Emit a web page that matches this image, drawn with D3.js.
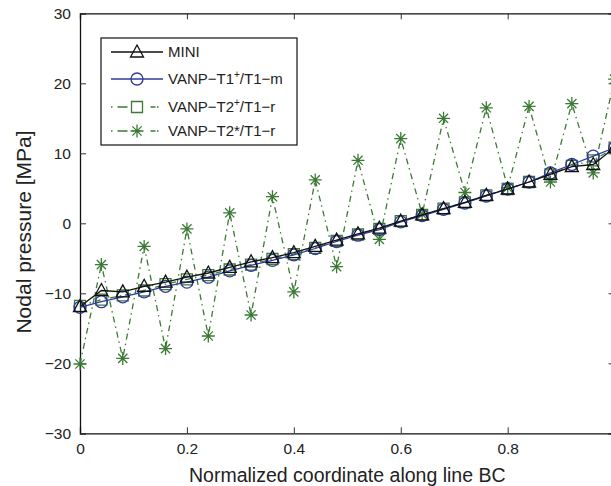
<!DOCTYPE html>
<html>
<head>
<meta charset="utf-8">
<script src="https://cdn.jsdelivr.net/npm/d3@7"></script>
<style>
  body { margin: 0; background: #fff; }
  svg text { font-family: "Liberation Sans", Arial, sans-serif; fill: #222; }
</style>
</head>
<body>
<div id="container"></div>
<script>
// data
const xs = [0, 0.04, 0.08, 0.12, 0.16, 0.2, 0.24, 0.28, 0.32, 0.36, 0.4, 0.44, 0.48,
            0.52, 0.56, 0.6, 0.64, 0.68, 0.72, 0.76, 0.8, 0.84, 0.88, 0.92, 0.96, 1.0];
const mini = [-11.9, -9.6, -9.8, -9.0, -8.4, -7.7, -7.1, -6.3, -5.5, -4.9, -4.2, -3.3, -2.4,
              -1.5, -0.7, 0.3, 1.2, 2.1, 3.0, 4.0, 4.9, 5.9, 7.0, 8.1, 8.4, 10.8];
const t1m = [-12.0, -11.2, -10.5, -9.8, -9.0, -8.4, -7.7, -6.8, -6.0, -5.3, -4.5, -3.6, -2.6,
             -1.7, -0.9, 0.2, 1.1, 2.0, 2.9, 3.9, 4.9, 5.9, 7.2, 8.4, 9.6, 10.8];
const t2pr = [-11.8, -10.9, -10.3, -9.6, -8.7, -8.0, -7.4, -6.6, -5.9, -5.1, -4.4, -3.5, -2.5,
              -1.6, -0.8, 0.3, 1.2, 2.1, 3.0, 4.0, 4.9, 5.9, 7.0, 8.2, 9.0, 10.8];
const t2sr = [-20.1, -5.9, -19.3, -3.3, -17.9, -0.8, -16.1, 1.5, -13.1, 3.8, -9.8, 6.2, -6.2,
              9.0, -2.3, 12.1, 1.3, 15.0, 4.4, 16.5, 5.1, 16.7, 5.9, 17.1, 7.2, 20.6];
const xTicks = [0, 0.2, 0.4, 0.6, 0.8, 1];
const xTickLabels = ["0", "0.2", "0.4", "0.6", "0.8", ""];   // "1" falls off the picture
const yTicks = [-30, -20, -10, 0, 10, 20, 30];

const width = 611, height = 486;
const margin = { top: 13.3, left: 80, right: 614.6, bottom: 433.3 };
const green = "#3b7a34", blue = "#2f3a9a";

const series = [
  { name: "MINI", vals: mini, color: "#111", dash: null, marker: "tri" },
  { name: "T1", vals: t1m, color: blue, dash: null, marker: "circ" },
  { name: "T2p", vals: t2pr, color: green, dash: "6,4,1.5,4", marker: "sq" },
  { name: "T2s", vals: t2sr, color: green, dash: "6,4,1.5,4", marker: "star" }
];

const svg = d3.select("#container").append("svg")
  .attr("width", width).attr("height", height);

const xScale = d3.scaleLinear().domain([0, 1]).range([margin.left, margin.right]);
const yScale = d3.scaleLinear().domain([-30, 30]).range([margin.bottom, margin.top]);

function markerPath(type) {
  if (type === "tri") return "M0,-7L6.5,5L-6.5,5Z";
  if (type === "circ") return "M6,0A6,6 0 1,1 -6,0A6,6 0 1,1 6,0Z";
  if (type === "sq") return "M-5.5,-5.5H5.5V5.5H-5.5Z";
  return "M-6.5,0H6.5M0,-6.5V6.5M-4.6,-4.6L4.6,4.6M-4.6,4.6L4.6,-4.6";
}

// axes box
const axes = svg.append("g");
axes.append("g")
  .attr("transform", `translate(0,${margin.bottom})`)
  .call(d3.axisBottom(xScale).tickValues(xTicks).tickSize(-6).tickPadding(10)
    .tickFormat((d, i) => xTickLabels[i]));
axes.append("g")
  .attr("transform", `translate(0,${margin.top})`)
  .call(d3.axisTop(xScale).tickValues(xTicks).tickSize(-6).tickFormat(""));
axes.append("g")
  .attr("transform", `translate(${margin.left},0)`)
  .call(d3.axisLeft(yScale).tickValues(yTicks).tickSize(-6).tickPadding(9)
    .tickFormat(d => d < 0 ? "\u2212" + Math.abs(d) : d));
axes.append("g")
  .attr("transform", `translate(${margin.right},0)`)
  .call(d3.axisRight(yScale).tickValues(yTicks).tickSize(-6).tickFormat(""));
axes.selectAll(".domain").attr("stroke", "#111").attr("stroke-width", 1.3);
axes.selectAll(".tick line").attr("stroke", "#333");
axes.selectAll(".tick text").attr("font-size", 15.5).attr("fill", "#222")
  .style("font-family", "'Liberation Sans', Arial, sans-serif");

// series
const lineGen = d3.line().x((d, i) => xScale(xs[i])).y(d => yScale(d));
series.slice().reverse().forEach(s => {
  const g = svg.append("g");
  g.append("path")
    .attr("d", lineGen(s.vals))
    .attr("fill", "none")
    .attr("stroke", s.color)
    .attr("stroke-width", 1.3)
    .attr("stroke-dasharray", s.dash);
  g.selectAll("path.mk")
    .data(s.vals)
    .join("path")
    .attr("class", "mk")
    .attr("transform", (d, i) => `translate(${xScale(xs[i])},${yScale(d)})`)
    .attr("d", markerPath(s.marker))
    .attr("fill", "none")
    .attr("stroke", s.color)
    .attr("stroke-width", 1.3);
});

// axis labels
svg.append("text")
  .attr("x", (margin.left + margin.right) / 2).attr("y", 482)
  .attr("text-anchor", "middle").attr("font-size", 19.5)
  .text("Normalized coordinate along line BC");
svg.append("text")
  .attr("transform", `translate(31,232) rotate(-90)`)
  .attr("text-anchor", "middle").attr("font-size", 21)
  .text("Nodal pressure [MPa]");

// legend
const legend = svg.append("g");
legend.append("rect")
  .attr("x", 101).attr("y", 38).attr("width", 196).attr("height", 107)
  .attr("fill", "#fff").attr("stroke", "#111").attr("stroke-width", 1.2);
const legRows = [
  { s: series[0], y: 52, label: ["MINI"] },
  { s: series[1], y: 79, label: ["VANP\u2212T1", "+", "/T1\u2212m"] },
  { s: series[2], y: 107, label: ["VANP\u2212T2", "+", "/T1\u2212r"] },
  { s: series[3], y: 131, label: ["VANP\u2212T2*/T1\u2212r"] }
];
legRows.forEach(r => {
  legend.append("line")
    .attr("x1", 111).attr("x2", 163).attr("y1", r.y).attr("y2", r.y)
    .attr("stroke", r.s.color).attr("stroke-width", 1.3)
    .attr("stroke-dasharray", r.s.dash ? "1.5,5,10,5,1.5" : null);
  legend.append("path")
    .attr("transform", `translate(137,${r.y})`)
    .attr("d", markerPath(r.s.marker))
    .attr("fill", r.s.marker === "sq" ? "#fff" : "none")
    .attr("stroke", r.s.color).attr("stroke-width", 1.3);
  const t = legend.append("text")
    .attr("x", 168).attr("y", r.y + 5).attr("font-size", 15);
  t.append("tspan").text(r.label[0]);
  if (r.label.length > 1) {
    t.append("tspan").attr("dy", -6).attr("font-size", 10).text(r.label[1]);
    t.append("tspan").attr("dy", 6).text(r.label[2]);
  }
});
</script>
</body>
</html>
